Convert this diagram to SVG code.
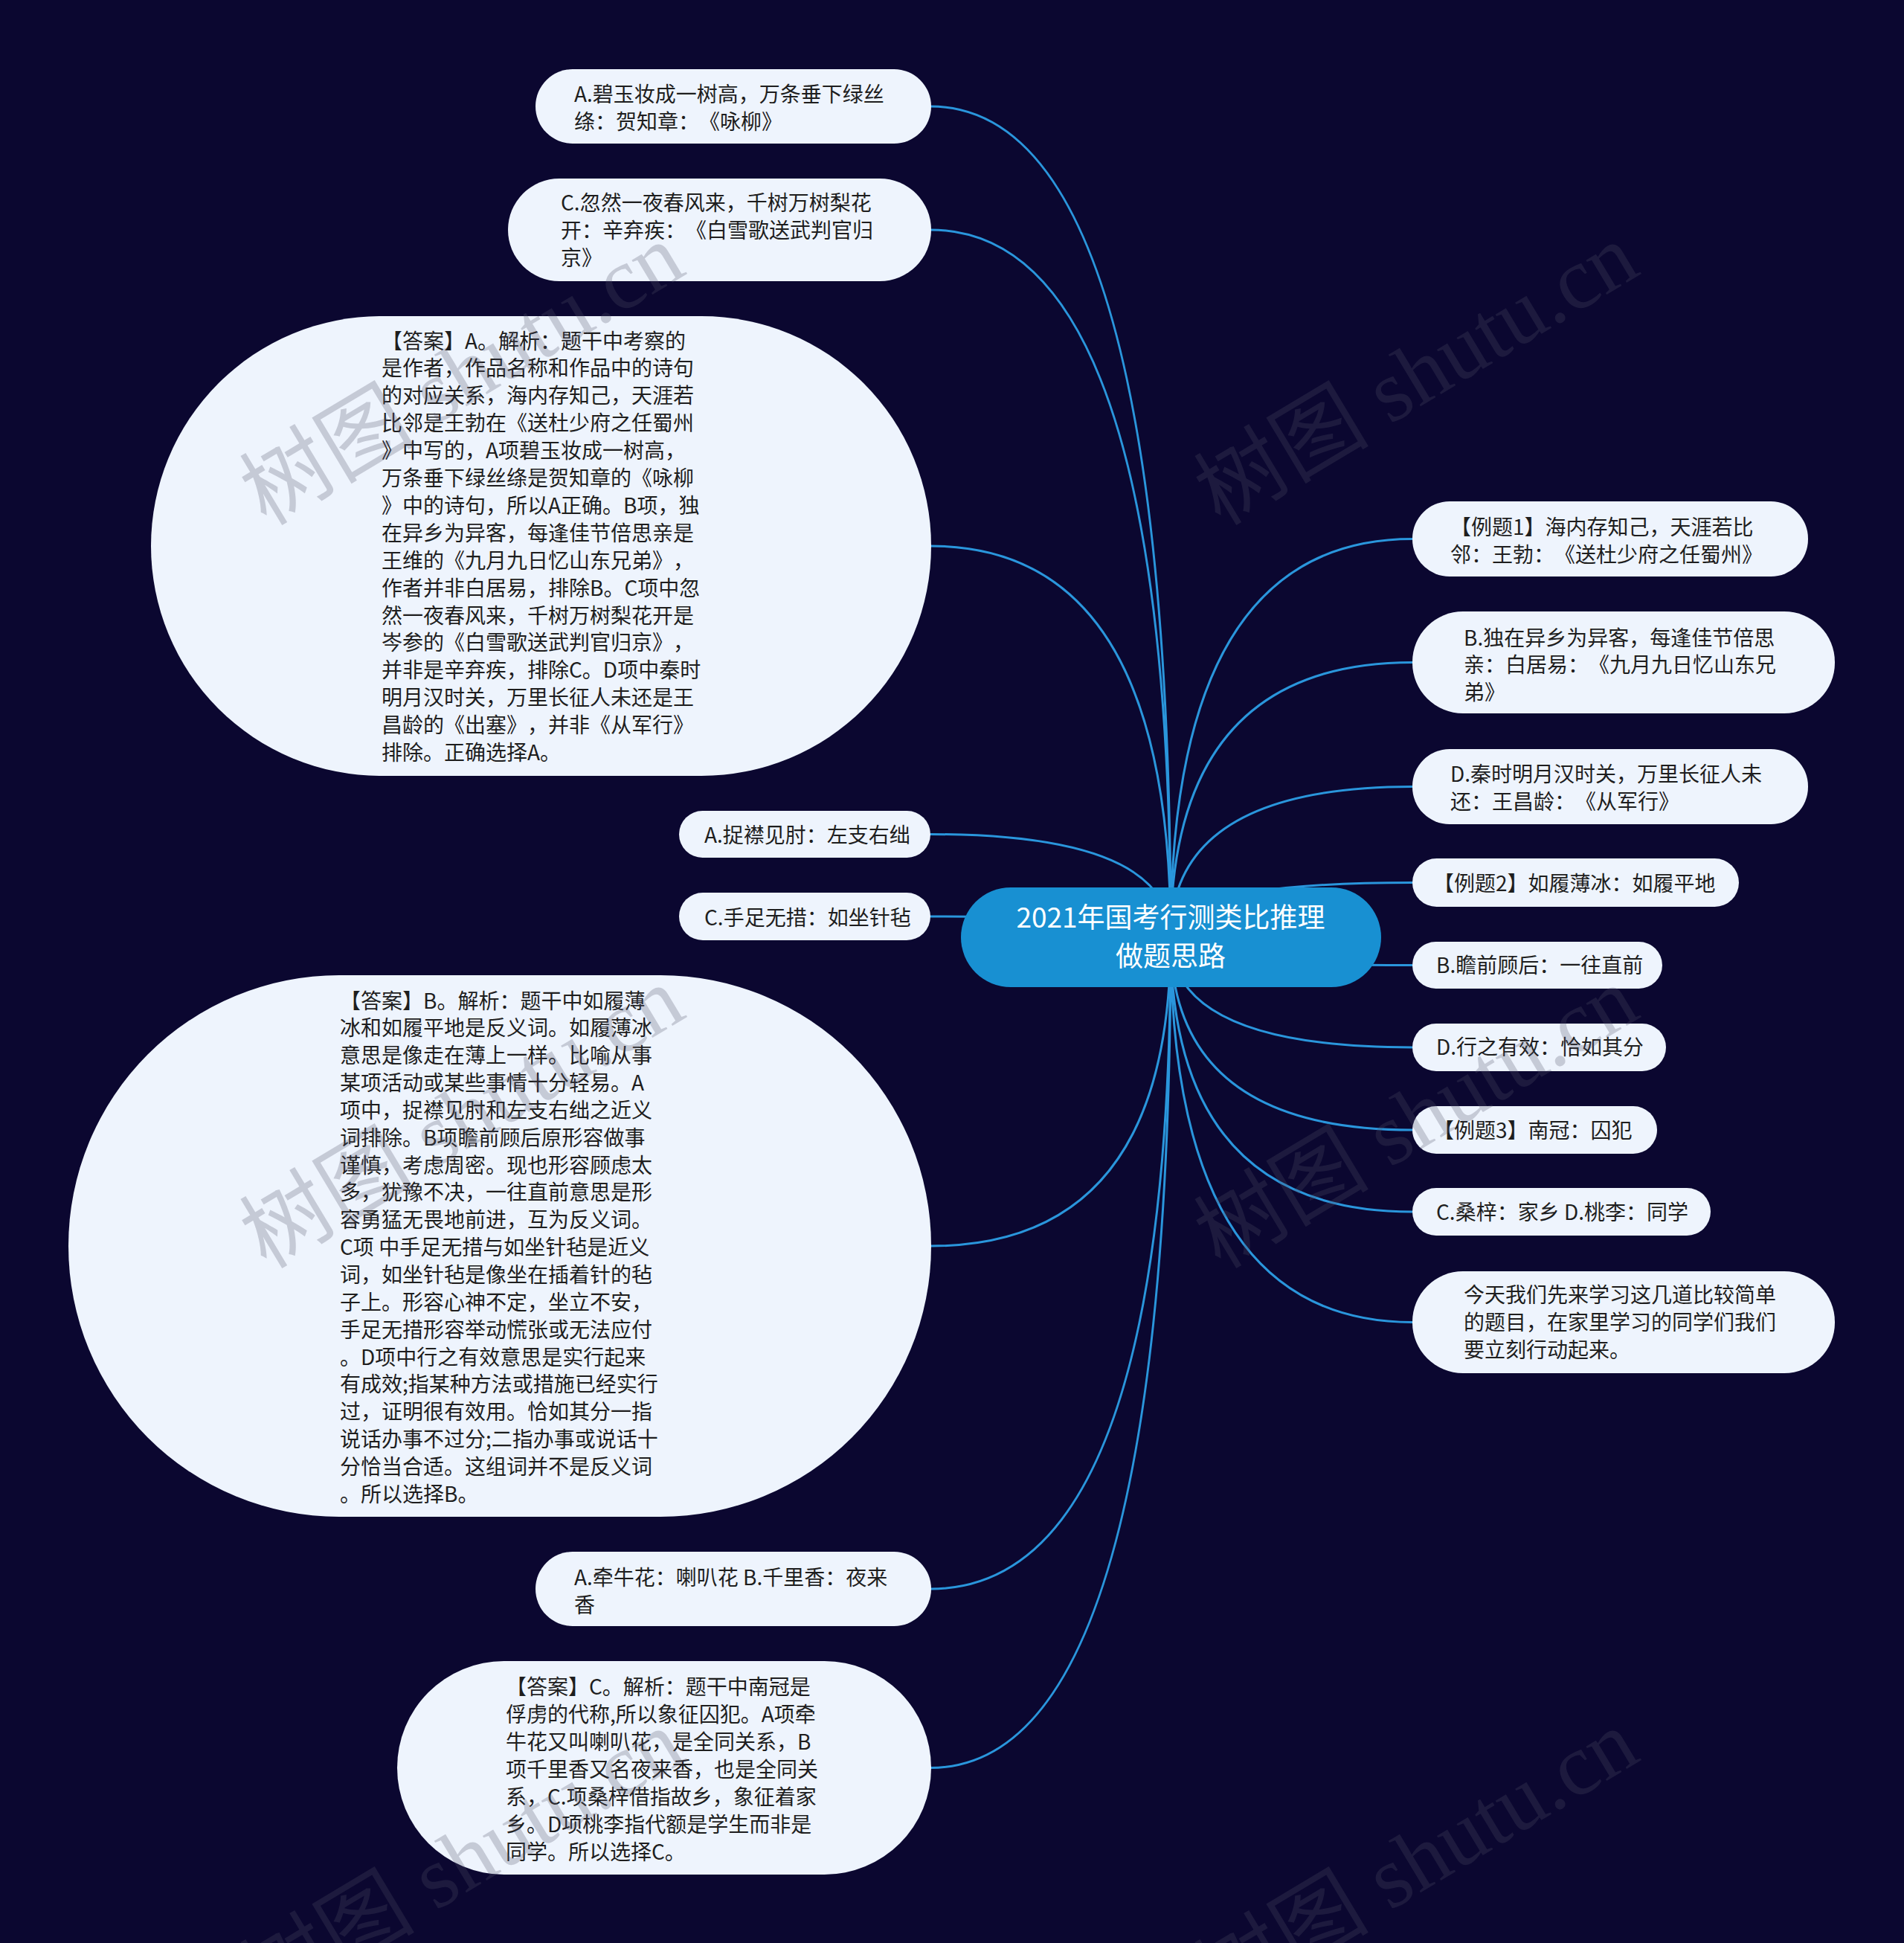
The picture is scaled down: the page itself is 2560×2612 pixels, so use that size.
<svg xmlns="http://www.w3.org/2000/svg" width="2560" height="2612" viewBox="0 0 2560 2612">
<style>
.bg{fill:#0b0730}
.node{fill:#eef4fd}
.root{fill:#1890d2}
.t{font-family:"Noto Sans CJK SC","Noto Sans",sans-serif;font-size:28px;fill:#1e1e1e;text-spacing-trim:space-all}
.rt{font-family:"Noto Sans CJK SC","Noto Sans",sans-serif;font-size:37px;fill:#ffffff;text-anchor:middle}
.edge{fill:none;stroke:#2a96dc;stroke-width:3}
.wm{font-family:"Liberation Serif","Noto Sans CJK SC",serif;font-size:118px;fill:#50506a;fill-opacity:0.26}
</style>
<rect class="bg" x="0" y="0" width="2560" height="2612"/>
<g id="connectors">
<path class="edge" d="M1574 1260 Q1574 143 1251 143"/>
<path class="edge" d="M1574 1260 Q1574 309 1251 309"/>
<path class="edge" d="M1574 1260 Q1574 734 1251 734"/>
<path class="edge" d="M1574 1260 Q1574 1121.5 1251 1121.5"/>
<path class="edge" d="M1574 1260 Q1574 1232 1251 1232"/>
<path class="edge" d="M1574 1260 Q1574 1675 1251 1675"/>
<path class="edge" d="M1574 1260 Q1574 2136 1251 2136"/>
<path class="edge" d="M1574 1260 Q1574 2376.5 1251 2376.5"/>
<path class="edge" d="M1574 1260 Q1574 724.5 1899 724.5"/>
<path class="edge" d="M1574 1260 Q1574 890.5 1899 890.5"/>
<path class="edge" d="M1574 1260 Q1574 1057.5 1899 1057.5"/>
<path class="edge" d="M1574 1260 Q1574 1186.5 1899 1186.5"/>
<path class="edge" d="M1574 1260 Q1574 1297.5 1899 1297.5"/>
<path class="edge" d="M1574 1260 Q1574 1408 1899 1408"/>
<path class="edge" d="M1574 1260 Q1574 1519 1899 1519"/>
<path class="edge" d="M1574 1260 Q1574 1629 1899 1629"/>
<path class="edge" d="M1574 1260 Q1574 1777.5 1899 1777.5"/>
</g>
<g id="root">
<rect class="root" x="1292" y="1193" width="565" height="134" rx="67"/>
<text class="rt" x="1574" y="1247">2021年国考行测类比推理</text>
<text class="rt" x="1574" y="1299">做题思路</text>
</g>
<g id="n1">
<rect class="node" x="720" y="93" width="532" height="100" rx="50"/>
<text class="t" x="772" y="137"><tspan x="772">A.碧玉妆成一树高，万条垂下绿丝</tspan><tspan x="772" dy="37">绦：贺知章：《咏柳》</tspan></text>
</g>
<g id="n2">
<rect class="node" x="683" y="240" width="569" height="138" rx="69"/>
<text class="t" x="754" y="283"><tspan x="754">C.忽然一夜春风来，千树万树梨花</tspan><tspan x="754" dy="37">开：辛弃疾：《白雪歌送武判官归</tspan><tspan x="754" dy="37">京》</tspan></text>
</g>
<g id="n3">
<rect class="node" x="203" y="425" width="1049" height="618" rx="309"/>
<text class="t" x="513" y="468.5"><tspan x="513">【答案】A。解析：题干中考察的</tspan><tspan x="513" dy="36.9">是作者，作品名称和作品中的诗句</tspan><tspan x="513" dy="36.9">的对应关系，海内存知己，天涯若</tspan><tspan x="513" dy="36.9">比邻是王勃在《送杜少府之任蜀州</tspan><tspan x="513" dy="36.9">》中写的，A项碧玉妆成一树高，</tspan><tspan x="513" dy="36.9">万条垂下绿丝绦是贺知章的《咏柳</tspan><tspan x="513" dy="36.9">》中的诗句，所以A正确。B项，独</tspan><tspan x="513" dy="36.9">在异乡为异客，每逢佳节倍思亲是</tspan><tspan x="513" dy="36.9">王维的《九月九日忆山东兄弟》，</tspan><tspan x="513" dy="36.9">作者并非白居易，排除B。C项中忽</tspan><tspan x="513" dy="36.9">然一夜春风来，千树万树梨花开是</tspan><tspan x="513" dy="36.9">岑参的《白雪歌送武判官归京》，</tspan><tspan x="513" dy="36.9">并非是辛弃疾，排除C。D项中秦时</tspan><tspan x="513" dy="36.9">明月汉时关，万里长征人未还是王</tspan><tspan x="513" dy="36.9">昌龄的《出塞》，并非《从军行》</tspan><tspan x="513" dy="36.9">排除。正确选择A。</tspan></text>
</g>
<g id="n4">
<rect class="node" x="913" y="1090" width="338" height="63" rx="31.5"/>
<text class="t" x="947" y="1132.5">A.捉襟见肘：左支右绌</text>
</g>
<g id="n5">
<rect class="node" x="913" y="1200" width="338" height="64" rx="32"/>
<text class="t" x="947" y="1243.5">C.手足无措：如坐针毡</text>
</g>
<g id="n7">
<rect class="node" x="92" y="1311" width="1160" height="728" rx="364"/>
<text class="t" x="457" y="1355.5"><tspan x="457">【答案】B。解析：题干中如履薄</tspan><tspan x="457" dy="36.85">冰和如履平地是反义词。如履薄冰</tspan><tspan x="457" dy="36.85">意思是像走在薄上一样。比喻从事</tspan><tspan x="457" dy="36.85">某项活动或某些事情十分轻易。A</tspan><tspan x="457" dy="36.85">项中，捉襟见肘和左支右绌之近义</tspan><tspan x="457" dy="36.85">词排除。B项瞻前顾后原形容做事</tspan><tspan x="457" dy="36.85">谨慎，考虑周密。现也形容顾虑太</tspan><tspan x="457" dy="36.85">多，犹豫不决，一往直前意思是形</tspan><tspan x="457" dy="36.85">容勇猛无畏地前进，互为反义词。</tspan><tspan x="457" dy="36.85">C项 中手足无措与如坐针毡是近义</tspan><tspan x="457" dy="36.85">词，如坐针毡是像坐在插着针的毡</tspan><tspan x="457" dy="36.85">子上。形容心神不定，坐立不安，</tspan><tspan x="457" dy="36.85">手足无措形容举动慌张或无法应付</tspan><tspan x="457" dy="36.85">。D项中行之有效意思是实行起来</tspan><tspan x="457" dy="36.85">有成效;指某种方法或措施已经实行</tspan><tspan x="457" dy="36.85">过，证明很有效用。恰如其分一指</tspan><tspan x="457" dy="36.85">说话办事不过分;二指办事或说话十</tspan><tspan x="457" dy="36.85">分恰当合适。这组词并不是反义词</tspan><tspan x="457" dy="36.85">。所以选择B。</tspan></text>
</g>
<g id="n8">
<rect class="node" x="720" y="2086" width="532" height="100" rx="50"/>
<text class="t" x="772" y="2130.5"><tspan x="772">A.牵牛花：喇叭花 B.千里香：夜来</tspan><tspan x="772" dy="37">香</tspan></text>
</g>
<g id="n9">
<rect class="node" x="534" y="2233" width="718" height="287" rx="143.5"/>
<text class="t" x="680" y="2277.5"><tspan x="680">【答案】C。解析：题干中南冠是</tspan><tspan x="680" dy="37">俘虏的代称,所以象征囚犯。A项牵</tspan><tspan x="680" dy="37">牛花又叫喇叭花，是全同关系，B</tspan><tspan x="680" dy="37">项千里香又名夜来香，也是全同关</tspan><tspan x="680" dy="37">系，C.项桑梓借指故乡，象征着家</tspan><tspan x="680" dy="37">乡。D项桃李指代额是学生而非是</tspan><tspan x="680" dy="37">同学。所以选择C。</tspan></text>
</g>
<g id="n10">
<rect class="node" x="1899" y="674" width="532" height="101" rx="50"/>
<text class="t" x="1950" y="718.5"><tspan x="1950">【例题1】海内存知己，天涯若比</tspan><tspan x="1950" dy="37">邻：王勃：《送杜少府之任蜀州》</tspan></text>
</g>
<g id="n11">
<rect class="node" x="1899" y="822" width="568" height="137" rx="68"/>
<text class="t" x="1968" y="867.5"><tspan x="1968">B.独在异乡为异客，每逢佳节倍思</tspan><tspan x="1968" dy="36.5">亲：白居易：《九月九日忆山东兄</tspan><tspan x="1968" dy="36.5">弟》</tspan></text>
</g>
<g id="n12">
<rect class="node" x="1899" y="1007" width="532" height="101" rx="50"/>
<text class="t" x="1950" y="1050.5"><tspan x="1950">D.秦时明月汉时关，万里长征人未</tspan><tspan x="1950" dy="37">还：王昌龄：《从军行》</tspan></text>
</g>
<g id="n13">
<rect class="node" x="1899" y="1154" width="439" height="65" rx="32.5"/>
<text class="t" x="1927" y="1197.5">【例题2】如履薄冰：如履平地</text>
</g>
<g id="n14">
<rect class="node" x="1899" y="1266" width="336" height="63" rx="31.5"/>
<text class="t" x="1931" y="1307.5">B.瞻前顾后：一往直前</text>
</g>
<g id="n15">
<rect class="node" x="1899" y="1376" width="341" height="64" rx="32"/>
<text class="t" x="1931" y="1417.5">D.行之有效：恰如其分</text>
</g>
<g id="n16">
<rect class="node" x="1899" y="1487" width="329" height="64" rx="32"/>
<text class="t" x="1927" y="1529.5">【例题3】南冠：囚犯</text>
</g>
<g id="n17">
<rect class="node" x="1899" y="1597" width="401" height="64" rx="32"/>
<text class="t" x="1931" y="1639.5">C.桑梓：家乡 D.桃李：同学</text>
</g>
<g id="n18">
<rect class="node" x="1899" y="1709" width="568" height="137" rx="68"/>
<text class="t" x="1968" y="1750.5"><tspan x="1968">今天我们先来学习这几道比较简单</tspan><tspan x="1968" dy="37">的题目，在家里学习的同学们我们</tspan><tspan x="1968" dy="37">要立刻行动起来。</tspan></text>
</g>
<g id="watermarks">
<text class="wm" transform="translate(358 708) rotate(-31)">树图 shutu.cn</text>
<text class="wm" transform="translate(1641 708) rotate(-31)">树图 shutu.cn</text>
<text class="wm" transform="translate(358 1707) rotate(-31)">树图 shutu.cn</text>
<text class="wm" transform="translate(1641 1707) rotate(-31)">树图 shutu.cn</text>
<text class="wm" transform="translate(358 2706) rotate(-31)">树图 shutu.cn</text>
<text class="wm" transform="translate(1641 2706) rotate(-31)">树图 shutu.cn</text>
</g>
</svg>
